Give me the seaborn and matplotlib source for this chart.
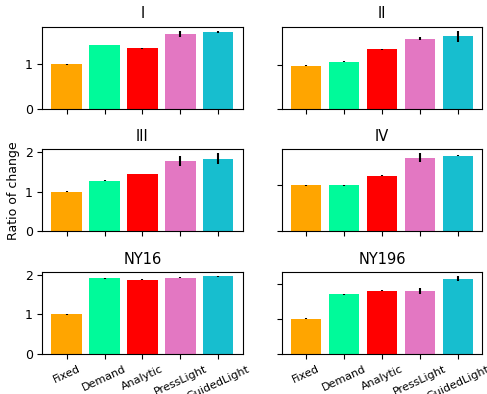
import matplotlib
matplotlib.use("Agg")
import matplotlib.pyplot as plt
import seaborn as sns
import pandas as pd

methods = ["Fixed", "Demand", "Analytic", "PressLight", "GuidedLight"]
colors = ["#FFA500", "#00FA9A", "#FF0000", "#E377C2", "#17BECF"]
titles = ["I", "II", "III", "IV", "NY16", "NY196"]

vals_I = [1.00, 1.44, 1.37, 1.69, 1.735]
err_I = [0.01, 0.01, 0.01, 0.07, 0.03]
vals_II = [0.99, 1.08, 1.36, 1.61, 1.66]
err_II = [0.01, 0.01, 0.01, 0.045, 0.13]
vals_III = [1.00, 1.28, 1.45, 1.78, 1.83]
err_III = [0.01, 0.01, 0.01, 0.135, 0.14]
vals_IV = [1.00, 1.00, 1.20, 1.59, 1.63]
err_IV = [0.01, 0.01, 0.01, 0.094, 0.01]
vals_NY16 = [1.00, 1.90, 1.87, 1.92, 1.95]
err_NY16 = [0.01, 0.01, 0.01, 0.02, 0.01]
vals_NY196 = [1.00, 1.69, 1.80, 1.80, 2.14]
err_NY196 = [0.01, 0.01, 0.01, 0.085, 0.07]

all_vals = [vals_I, vals_II, vals_III, vals_IV, vals_NY16, vals_NY196]
all_errs = [err_I, err_II, err_III, err_IV, err_NY16, err_NY196]

fig, axes = plt.subplots(3, 2, figsize=(4.87, 3.94), dpi=100)
fig.subplots_adjust(left=0.087, right=0.990, top=0.932, bottom=0.1015,
                    wspace=0.197, hspace=0.50)

for i, ax in enumerate(axes.flat):
    df = pd.DataFrame({"method": methods, "value": all_vals[i]})
    sns.barplot(data=df, x="method", y="value", hue="method", palette=colors,
                saturation=1, errorbar=None, legend=False, width=0.8, ax=ax)
    ax.errorbar(x=list(range(len(methods))), y=all_vals[i], yerr=all_errs[i],
                fmt="none", ecolor="black", elinewidth=1.5, capsize=0)
    ax.set_xlim(-0.64, len(methods) - 1 + 0.64)
    top = max(v + e for v, e in zip(all_vals[i], all_errs[i]))
    ax.set_ylim(0, top * 1.05)
    ax.set_title(titles[i], fontsize=10.5)
    ax.set_xlabel("")
    ax.set_ylabel("")
    ax.tick_params(axis="y", labelsize=9)
    if i % 2 == 1:
        ax.set_yticklabels([])
    if i < 4:
        ax.set_xticklabels([])
    else:
        ax.set_xticks(range(len(methods)))
        ax.set_xticklabels(methods, rotation=25, fontsize=8)

axes[1, 0].set_ylabel("Ratio of change", fontsize=9)
axes[1, 0].yaxis.set_label_coords(-0.11, 0.5)

fig.savefig("out.png", dpi=100)
